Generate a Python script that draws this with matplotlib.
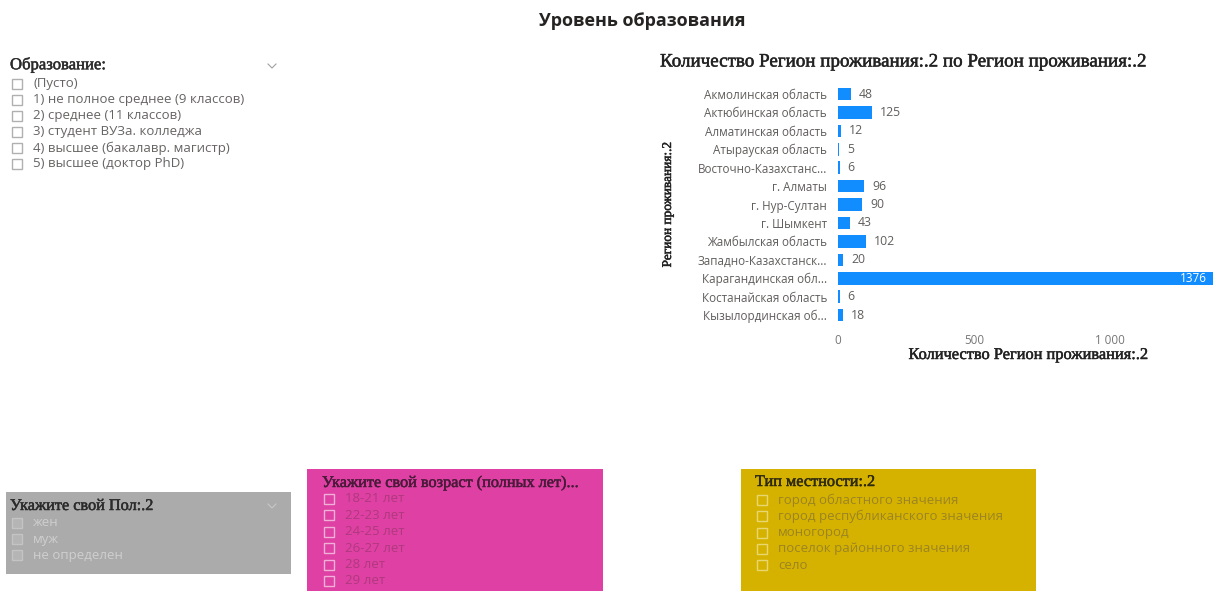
import matplotlib
matplotlib.use("Agg")
import matplotlib.pyplot as plt
import matplotlib.patheffects as pe
from matplotlib.patches import Rectangle

# data
regions = ['Акмолинская область', 'Актюбинская область', 'Алматинская область',
           'Атырауская область', 'Восточно-Казахстанс...', 'г. Алматы',
           'г. Нур-Султан', 'г. Шымкент', 'Жамбылская область',
           'Западно-Казахстанск...', 'Карагандинская обл...',
           'Костанайская область', 'Кызылординская об...']
counts = [48, 125, 12, 5, 6, 96, 90, 43, 102, 20, 1376, 6, 18]
x_ticks = [0, 500, 1000]
x_tick_labels = ['0', '500', '1 000']

education_items = ['(Пусто)', '1) не полное среднее (9 классов)', '2) среднее (11 классов)',
                   '3) студент ВУЗа. колледжа', '4) высшее (бакалавр. магистр)',
                   '5) высшее (доктор PhD)']
gender_items = ['жен', 'муж', 'не определен']
age_items = ['18-21 лет', '22-23 лет', '24-25 лет', '26-27 лет', '28 лет', '29 лет']
area_items = ['город областного значения', 'город республиканского значения',
              'моногород', 'поселок районного значения', 'село']

SANS = ['Open Sans', 'DejaVu Sans']
SERIF = ['Liberation Serif', 'DejaVu Serif']
W, H = 1229, 591

fig = plt.figure(figsize=(W / 100, H / 100), dpi=100)
fig.patch.set_facecolor('white')

# pixel-coordinate canvas for the dashboard pieces
bg = fig.add_axes([0, 0, 1, 1])
bg.set_xlim(0, W)
bg.set_ylim(H, 0)
bg.axis('off')

bg.text(642, 21, 'Уровень образования', ha='center', va='center',
        fontsize=13, fontweight='bold', family=SANS, color='#252423')


def heavy(color):
    # the serif headers in the screenshot look a bit heavier than regular
    return [pe.withStroke(linewidth=0.35, foreground=color)]


def chevron(x, y, color):
    bg.plot([x - 4, x, x + 4], [y - 2, y + 2, y - 2], color=color, lw=0.8)


def slicer(x, y0, title, items, first, step, title_color, item_color, box_edge,
           box_face='none', title_size=11.7):
    bg.text(x, y0, title, ha='left', va='center', fontsize=title_size,
            family=SERIF, color=title_color, path_effects=heavy(title_color))
    for i, item in enumerate(items):
        yy = y0 + first + step * i
        bg.add_patch(Rectangle((x + 2, yy - 5), 10, 10, facecolor=box_face,
                               edgecolor=box_edge, lw=1.0))
        bg.text(x + 23, yy, item, ha='left', va='center', fontsize=9.5,
                family=SANS, color=item_color)


# education slicer (top left)
slicer(10, 65, 'Образование:', education_items, 19, 16, '#2b2b2b', '#666462', '#b0b0b0',
       title_size=12)
chevron(272, 66, '#a0a0a0')

# gender slicer (grey box)
bg.add_patch(Rectangle((6, 492), 285, 82, facecolor='#ababab', edgecolor='none'))
slicer(10, 506, 'Укажите свой Пол:.2', gender_items, 17, 16, '#2b2b2b', '#cfcfcf',
       '#c4c4c4', box_face='#b5b5b5')
chevron(272, 506, '#c8c8c8')

# age slicer (pink box)
bg.add_patch(Rectangle((307, 469), 296, 125, facecolor='#de41a3', edgecolor='none'))
slicer(322, 483, 'Укажите свой возраст (полных лет)...', age_items, 16, 16.4,
       '#4a1a3a', '#b0387e', '#f0b0d8', box_face='#de41a3')

# area type slicer (yellow box)
bg.add_patch(Rectangle((741, 469), 295, 125, facecolor='#d6b200', edgecolor='none'))
slicer(755, 482, 'Тип местности:.2', area_items, 18, 16.3, '#2e2a10', '#9a8424',
       '#e8d670', box_face='#d6b200')

# bar chart
px = 0.2722  # pixels per unit on the x axis
ax = fig.add_axes([838 / W, 1 - 324.3 / H, 1385 * px / W, 239.5 / H])
ax.set_facecolor('none')
ypos = list(range(len(regions)))
ax.barh(ypos, counts, height=0.68, color='#118dff')
ax.set_ylim(len(regions) - 0.5, -0.5)
ax.set_xlim(0, 1385)
for s in ax.spines.values():
    s.set_visible(False)
ax.tick_params(length=0)
ax.set_yticks(ypos)
ax.set_yticklabels(regions, fontsize=8.4, family=SANS, color='#605e5c')
ax.tick_params(axis='y', pad=8)
ax.set_xticks(x_ticks)
ax.set_xticklabels(x_tick_labels, fontsize=8.4, family=SANS, color='#777777')
ax.tick_params(axis='x', pad=7)

for y, v in zip(ypos, counts):
    if v > 1000:
        ax.text(v - 6 / px, y, str(v), ha='right', va='center', fontsize=8.5,
                family=SANS, color='white')
    else:
        ax.text(v + 8 / px, y, str(v), ha='left', va='center', fontsize=8.8,
                family=SANS, color='#605e5c')

bg.text(660, 62, 'Количество Регион проживания:.2 по Регион проживания:.2',
        ha='left', va='center', fontsize=13.7, family=SERIF, color='#222222',
        path_effects=heavy('#222222'))
bg.text(1028, 355, 'Количество Регион проживания:.2', ha='center', va='center',
        fontsize=11.8, family=SERIF, color='#222222', path_effects=heavy('#222222'))
bg.text(668, 205, 'Регион проживания:.2', ha='center', va='center', rotation=90,
        fontsize=9.6, family=SERIF, color='#222222', path_effects=heavy('#222222'))

fig.savefig('out.png', dpi=100)
